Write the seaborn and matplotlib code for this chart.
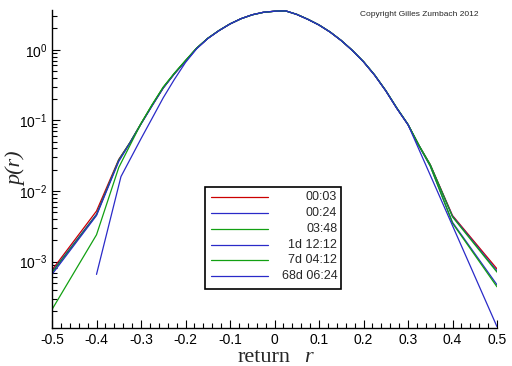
import matplotlib
matplotlib.use("Agg")
import matplotlib.pyplot as plt
import matplotlib.ticker as mticker
from matplotlib.lines import Line2D
import numpy as np
import pandas as pd
import seaborn as sns

# ---------------- data ----------------
series = ["00:03", "00:24", "03:48", "1d 12:12", "7d 04:12", "68d 06:24"]
colors = ["#cc0000", "#2a2ac8", "#12a012", "#2a2ac8", "#12a012", "#2a2ac8"]

r_grid = [-0.5, -0.4, -0.35, -0.325, -0.3, -0.275, -0.25, -0.225, -0.2, -0.175,
          -0.15, -0.125, -0.1, -0.075, -0.05, -0.025, 0.0, 0.025, 0.05, 0.075,
          0.1, 0.125, 0.15, 0.175, 0.2, 0.225, 0.25, 0.275, 0.3, 0.325, 0.35,
          0.4, 0.5]

p_0003 = [7.6e-4, 5.2e-3, 0.0280, 0.0482, 0.0895, 0.163, 0.289, 0.458, 0.693, 1.048,
          1.446, 1.862, 2.317, 2.754, 3.126, 3.388, 3.508, 3.548, 3.162, 2.692,
          2.239, 1.778, 1.349, 0.977, 0.676, 0.437, 0.263, 0.148, 0.0871, 0.0437, 0.0236,
          4.5e-3, 7.9e-4]
p_0024 = [7.2e-4, 4.7e-3, 0.0275, 0.0479, 0.0891, 0.162, 0.288, 0.457, 0.692, 1.047,
          1.445, 1.862, 2.317, 2.754, 3.126, 3.388, 3.508, 3.548, 3.162, 2.692,
          2.239, 1.778, 1.349, 0.977, 0.676, 0.437, 0.263, 0.148, 0.0871, 0.0437, 0.0234,
          4.4e-3, 7.4e-4]
p_0348 = [7.0e-4, 4.6e-3, 0.0272, 0.0485, 0.0905, 0.166, 0.294, 0.462, 0.700, 1.050,
          1.450, 1.865, 2.320, 2.750, 3.120, 3.380, 3.500, 3.540, 3.170, 2.700,
          2.245, 1.785, 1.352, 0.980, 0.680, 0.440, 0.265, 0.150, 0.0880, 0.0440, 0.0236,
          4.3e-3, 7.1e-4]
p_1d = [6.6e-4, 4.5e-3, 0.0262, 0.0475, 0.0888, 0.161, 0.287, 0.455, 0.690, 1.045,
        1.443, 1.860, 2.315, 2.752, 3.124, 3.386, 3.506, 3.546, 3.160, 2.690,
        2.237, 1.776, 1.347, 0.975, 0.674, 0.436, 0.262, 0.147, 0.0865, 0.0430, 0.0225,
        3.6e-3, 4.7e-4]
p_7d = [2.1e-4, 2.4e-3, 0.0215, 0.0440, 0.0900, 0.167, 0.296, 0.466, 0.705, 1.055,
        1.452, 1.866, 2.320, 2.752, 3.120, 3.380, 3.500, 3.540, 3.168, 2.698,
        2.243, 1.782, 1.351, 0.979, 0.678, 0.439, 0.264, 0.149, 0.0875, 0.0435, 0.0226,
        3.5e-3, 4.4e-4]

r_68d = [-0.4, -0.345, -0.3, -0.275, -0.25, -0.225, -0.2, -0.175,
         -0.15, -0.125, -0.1, -0.075, -0.05, -0.025, 0.0, 0.025, 0.05, 0.075,
         0.1, 0.125, 0.15, 0.175, 0.2, 0.225, 0.25, 0.275, 0.3, 0.5]
p_68d = [6.6e-4, 0.0160, 0.0550, 0.107, 0.209, 0.380, 0.660, 1.030,
         1.440, 1.860, 2.317, 2.754, 3.126, 3.388, 3.508, 3.548, 3.162, 2.692,
         2.239, 1.778, 1.349, 0.977, 0.676, 0.437, 0.263, 0.148, 0.0871, 1.2e-4]

x_ticks = [-0.5, -0.4, -0.3, -0.2, -0.1, 0.0, 0.1, 0.2, 0.3, 0.4, 0.5]

frames = []
for name, r, p in [(series[0], r_grid, p_0003), (series[1], r_grid, p_0024),
                   (series[2], r_grid, p_0348), (series[3], r_grid, p_1d),
                   (series[4], r_grid, p_7d), (series[5], r_68d, p_68d)]:
    frames.append(pd.DataFrame({"r": r, "p": p, "series": name}))
df = pd.concat(frames, ignore_index=True)

# ---------------- style ----------------
sns.set_style("ticks")
plt.rcParams["font.family"] = ["Liberation Sans", "DejaVu Sans"]
plt.rcParams["mathtext.fontset"] = "custom"
plt.rcParams["mathtext.rm"] = "Liberation Sans"
plt.rcParams["mathtext.it"] = "Liberation Sans:italic"
plt.rcParams["axes.unicode_minus"] = False

fig = plt.figure(figsize=(5.12, 3.66), dpi=100)
ax = fig.add_axes([52 / 512, 38 / 366, 445 / 512, 318 / 366])

sns.lineplot(data=df, x="r", y="p", hue="series", hue_order=series,
             palette=colors, estimator=None, sort=False, linewidth=0.9,
             legend=False, ax=ax)

ax.set_yscale("log")
ax.set_xlim(-0.5, 0.5)
ax.set_ylim(1.15e-4, 3.65)

for s in ["top", "right"]:
    ax.spines[s].set_visible(False)
for s in ["left", "bottom"]:
    ax.spines[s].set_linewidth(1.0)
    ax.spines[s].set_color("black")

ax.set_xticks(x_ticks)
ax.xaxis.set_minor_locator(mticker.MultipleLocator(0.02))
ax.xaxis.set_major_formatter(mticker.FuncFormatter(lambda v, pos: "%g" % round(v, 2)))
ax.yaxis.set_major_locator(mticker.LogLocator(base=10, numticks=10))
ax.yaxis.set_minor_locator(mticker.LogLocator(base=10, subs=np.arange(2, 10), numticks=20))
ax.yaxis.set_minor_formatter(mticker.NullFormatter())
ax.yaxis.set_major_formatter(mticker.FuncFormatter(
    lambda v, pos: r"$\mathregular{10^{%d}}$" % int(round(np.log10(v)))))

ax.tick_params(which="both", direction="in", top=False, right=False,
               colors="black", labelsize=10, width=0.8)
ax.tick_params(which="major", length=6, pad=3.5)
ax.tick_params(which="minor", length=3.5)

ax.set_xlabel("")
ax.set_ylabel("p(r)", fontfamily="Liberation Serif", fontstyle="italic", fontsize=16)
ax.yaxis.set_label_coords(-0.058, 0.5)

fig.text(238 / 512, 1 - 362 / 366, "return", fontfamily="Liberation Serif",
         fontsize=16, ha="left", va="baseline")
fig.text(304 / 512, 1 - 362 / 366, "r", fontfamily="Liberation Serif",
         fontstyle="italic", fontsize=16, ha="left", va="baseline")

fig.text(419 / 512, 1 - 15 / 366, "Copyright Gilles Zumbach 2012",
         fontsize=6, ha="center", va="center")

# legend: handles with empty labels, then right-aligned labels drawn in the box
handles = [Line2D([], [], color=c, linewidth=0.9) for c in colors]
leg = ax.legend(handles, [""] * len(series), loc="upper left",
                bbox_to_anchor=((205 - 52) / 445, (328 - 187) / 318),
                bbox_transform=ax.transAxes, frameon=True, fancybox=False,
                edgecolor="black", framealpha=1, fontsize=9, handlelength=4.6,
                handletextpad=5.4, labelspacing=0.30, borderpad=0.45,
                borderaxespad=0)
leg.get_frame().set_linewidth(1.2)

fig.canvas.draw()
renderer = fig.canvas.get_renderer()
frame_bb = leg.get_frame().get_window_extent(renderer)
right_px = frame_bb.x1 - 4
for name, line in zip(series, leg.get_lines()):
    lb = line.get_window_extent(renderer)
    xf, yf = fig.transFigure.inverted().transform((right_px, (lb.y0 + lb.y1) / 2))
    fig.text(xf, yf, name, fontsize=9, ha="right", va="center", zorder=10)

fig.savefig("out.png", dpi=100)
